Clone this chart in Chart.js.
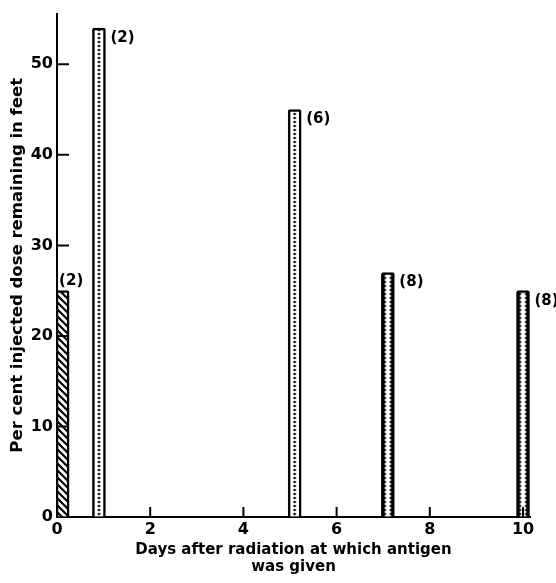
<!DOCTYPE html>
<html>
<head>
<meta charset="utf-8">
<script src="https://cdn.jsdelivr.net/npm/chart.js@4"></script>
<style>
  html, body { margin: 0; padding: 0; background: #fff; }
  #wrap { width: 556px; height: 583px; }
</style>
</head>
<body>
<div id="wrap"><canvas id="feetChart"></canvas></div>
<script>
// days after radiation (bar positions), % of dose remaining, number of animals
const days = [0.12, 0.9, 5.1, 7.1, 10];
const remaining = [25, 54, 45, 27, 25];
const counts = [2, 2, 6, 8, 8];
const fills = ['hatch', 'dots', 'dots', 'zigzag', 'zigzag'];
const xTicks = [0, 2, 4, 6, 8, 10];
const yTicks = [0, 10, 20, 30, 40, 50];

const FONT = "'DejaVu Sans', sans-serif";
const BAR_W = 13;

function makePattern(kind) {
  const c = document.createElement('canvas');
  const g = c.getContext('2d');
  if (kind === 'hatch') {
    c.width = 7; c.height = 7;
    g.fillStyle = '#fff'; g.fillRect(0, 0, 7, 7);
    g.strokeStyle = '#000'; g.lineWidth = 2.2;
    g.beginPath();
    g.moveTo(-1, -1); g.lineTo(8, 8);
    g.moveTo(-8, -1); g.lineTo(1, 8);
    g.moveTo(6, -1); g.lineTo(15, 8);
    g.stroke();
  } else if (kind === 'dots') {
    c.width = BAR_W; c.height = 4;
    g.fillStyle = '#fff'; g.fillRect(0, 0, BAR_W, 4);
    g.fillStyle = '#000';
    g.beginPath(); g.arc(BAR_W / 2, 2, 1.3, 0, Math.PI * 2); g.fill();
  } else {
    c.width = BAR_W; c.height = 4;
    g.fillStyle = '#fff'; g.fillRect(0, 0, BAR_W, 4);
    g.fillStyle = '#000';
    g.beginPath();
    g.moveTo(0, 0); g.lineTo(3, 0); g.lineTo(5, 2); g.lineTo(3, 4); g.lineTo(0, 4); g.closePath();
    g.moveTo(BAR_W, 0); g.lineTo(BAR_W - 3, 0); g.lineTo(BAR_W - 5, 2); g.lineTo(BAR_W - 3, 4); g.lineTo(BAR_W, 4); g.closePath();
    g.fill();
  }
  return c.getContext('2d').createPattern(c, 'repeat');
}
const patterns = fills.map(makePattern);

// keep each pattern lined up with its own bar
const alignPatterns = {
  id: 'alignPatterns',
  beforeDatasetsDraw(chart) {
    chart.getDatasetMeta(0).data.forEach((bar, i) => {
      if (fills[i] !== 'hatch') {
        patterns[i].setTransform(new DOMMatrix().translate(bar.x - bar.width / 2, 0));
      }
    });
  }
};

// short tick marks pointing into the plot, and the (n) labels
const extras = {
  id: 'extras',
  afterDraw(chart) {
    const ctx = chart.ctx;
    const x = chart.scales.x, y = chart.scales.y;
    const area = chart.chartArea;
    ctx.save();
    ctx.strokeStyle = '#000';
    ctx.lineWidth = 2;
    ctx.beginPath();
    xTicks.slice(1).forEach(v => {
      const px = x.getPixelForValue(v);
      ctx.moveTo(px, area.bottom); ctx.lineTo(px, area.bottom - 10);
    });
    yTicks.slice(1).forEach(v => {
      const py = y.getPixelForValue(v);
      ctx.moveTo(area.left, py); ctx.lineTo(area.left + 12, py);
    });
    ctx.stroke();

    ctx.fillStyle = '#000';
    ctx.font = 'bold 15px ' + FONT;
    ctx.textBaseline = 'middle';
    ctx.textAlign = 'left';
    chart.getDatasetMeta(0).data.forEach((bar, i) => {
      const txt = '(' + counts[i] + ')';
      if (i === 0) {
        ctx.fillText(txt, bar.x - bar.width / 2 + 3, bar.y - 10);
      } else {
        ctx.fillText(txt, bar.x + bar.width / 2 + 5, bar.y + 10);
      }
    });
    ctx.restore();
  }
};

new Chart(document.getElementById('feetChart'), {
  type: 'bar',
  data: {
    datasets: [{
      data: days.map((d, i) => ({ x: d, y: remaining[i] })),
      backgroundColor: patterns,
      borderColor: '#000',
      borderWidth: 2.5,
      borderRadius: { topLeft: 2, topRight: 2 },
      barThickness: BAR_W
    }]
  },
  options: {
    responsive: true,
    maintainAspectRatio: false,
    animation: false,
    layout: { padding: { left: 4, right: 26, top: 12, bottom: 0 } },
    plugins: { legend: { display: false }, tooltip: { enabled: false } },
    scales: {
      x: {
        type: 'linear',
        min: 0,
        max: 10.15,
        offset: false,
        afterBuildTicks: s => { s.ticks = xTicks.map(v => ({ value: v })); },
        afterFit: s => { s.height = 66; },
        grid: { drawOnChartArea: false, drawTicks: false, offset: false },
        border: { display: true, color: '#000', width: 2 },
        ticks: { color: '#000', padding: 3, maxRotation: 0, font: { family: FONT, size: 16, weight: 'bold' } },
        title: {
          display: true,
          text: ['Days after radiation at which antigen', 'was given'],
          color: '#000',
          font: { family: FONT, size: 15, weight: 'bold', lineHeight: 1.1 },
          padding: { top: 0, bottom: 8 }
        }
      },
      y: {
        min: 0,
        max: 55.6,
        afterBuildTicks: s => { s.ticks = yTicks.map(v => ({ value: v })); },
        afterFit: s => { s.width = 53; },
        grid: { drawOnChartArea: false, drawTicks: false },
        border: { display: true, color: '#000', width: 2 },
        ticks: { color: '#000', padding: 4, font: { family: FONT, size: 16, weight: 'bold' } },
        title: {
          display: true,
          text: 'Per cent injected dose remaining in feet',
          color: '#000',
          font: { family: FONT, size: 16.5, weight: 'bold' },
          padding: { top: 4, bottom: 0 }
        }
      }
    }
  },
  plugins: [alignPatterns, extras]
});
</script>
</body>
</html>
